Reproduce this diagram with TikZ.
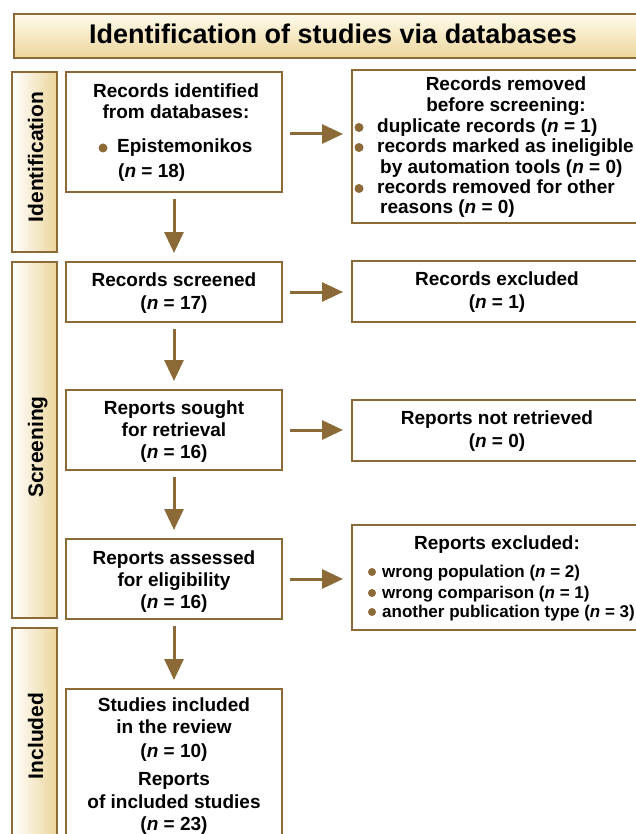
\documentclass[tikz,border=0pt]{standalone}
\usepackage{fontspec}
\setmainfont{Liberation Sans}
\usetikzlibrary{arrows.meta}
\definecolor{pbrown}{HTML}{8C6A38}
\definecolor{ptan}{HTML}{ECD59B}
\definecolor{pcream}{HTML}{FFFBEC}
\begin{document}
\begin{tikzpicture}[x=1pt,y=-1pt,
  pbox/.style={draw=pbrown, line width=2.5pt, fill=white, rectangle, outer sep=0pt, inner sep=0pt, anchor=north west},
  sbar/.style={pbox, left color=white, right color=ptan},
  tbar/.style={pbox, top color=pcream, bottom color=ptan},
  ptxt/.style={font=\fontsize{19}{22}\selectfont\bfseries, inner sep=0pt, anchor=base},
  ltxt/.style={ptxt, anchor=base west},
  stxt/.style={font=\fontsize{17}{20}\selectfont\bfseries, inner sep=0pt, anchor=base west},
  side/.style={font=\fontsize{21}{24}\selectfont\bfseries, inner sep=0pt, anchor=base, rotate=90},
  ttl/.style={font=\fontsize{27}{30}\selectfont\bfseries, inner sep=0pt, anchor=base},
  parr/.style={draw=pbrown, line width=3pt, -{Triangle[length=21pt,width=19pt]}, shorten <=7pt, shorten >=9pt},
  bul/.style={fill=pbrown}
]
\useasboundingbox (0,0) rectangle (636,834);
\clip (0,0) rectangle (636,834);

% title and side bars
\node[tbar, minimum width=640pt, minimum height=44pt] (title) at (14,14) {};
\node[sbar, minimum width=45pt, minimum height=180pt] (idbar) at (12,72) {};
\node[sbar, minimum width=45pt, minimum height=356pt] (scbar) at (12,262) {};
\node[sbar, minimum width=45pt, minimum height=240pt] (inbar) at (12,628) {};

\node[ttl] (ttltext) at (333,44) {Identification of studies via databases};
\node[side] (idtext) at (43,157) {Identification};
\node[side] (sctext) at (43,447) {Screening};
\node[side] (intext) at (43,736) {Included};

% left boxes
\node[pbox, minimum width=216pt, minimum height=120pt] (b1) at (66,72) {};
\node[pbox, minimum width=216pt, minimum height=60pt] (b2) at (66,262) {};
\node[pbox, minimum width=216pt, minimum height=80pt] (b3) at (66,390) {};
\node[pbox, minimum width=216pt, minimum height=80pt] (b4) at (66,539) {};
\node[pbox, minimum width=216pt, minimum height=180pt] (b5) at (66,689) {};

% right boxes
\node[pbox, minimum width=292pt, minimum height=153pt] (r1) at (352,70) {};
\node[pbox, minimum width=292pt, minimum height=61pt] (r2) at (352,261) {};
\node[pbox, minimum width=292pt, minimum height=61pt] (r3) at (352,400) {};
\node[pbox, minimum width=292pt, minimum height=105pt] (r4) at (352,525) {};

% box 1 text
\node[ptxt] (b1a) at (176,98) {Records identified};
\node[ptxt] (b1b) at (176,119) {from databases:};
\fill[bul] (103,148) circle[radius=4.5pt];
\node[ltxt] (b1c) at (117,153) {Epistemonikos};
\node[ltxt] (b1d) at (118,178) {(\textit{n} = 18)};

% box 2-5 text
\node[ptxt] (b2a) at (174,286) {Records screened};
\node[ptxt] (b2b) at (174,309) {(\textit{n} = 17)};
\node[ptxt] (b3a) at (174,414) {Reports sought};
\node[ptxt] (b3b) at (174,436) {for retrieval};
\node[ptxt] (b3c) at (174,458) {(\textit{n} = 16)};
\node[ptxt] (b4a) at (174,564) {Reports assessed};
\node[ptxt] (b4b) at (174,586) {for eligibility};
\node[ptxt] (b4c) at (174,608) {(\textit{n} = 16)};
\node[ptxt] (b5a) at (174,711) {Studies included};
\node[ptxt] (b5b) at (174,733) {in the review};
\node[ptxt] (b5c) at (174,757) {(\textit{n} = 10)};
\node[ptxt] (b5d) at (174,785) {Reports};
\node[ptxt] (b5e) at (174,808) {of included studies};
\node[ptxt] (b5f) at (174,830) {(\textit{n} = 23)};

% right box 1 text
\node[ptxt] (r1a) at (506,91) {Records removed};
\node[ptxt] (r1b) at (506,112) {before screening:};
\fill[bul] (359,127.5) circle[radius=4.5pt];
\node[ltxt] (r1c) at (377,133) {duplicate records (\textit{n} = 1)};
\fill[bul] (359,147.5) circle[radius=4.5pt];
\node[ltxt] (r1d) at (377,153) {records marked as ineligible};
\node[ltxt] (r1e) at (380,174) {by automation tools (\textit{n} = 0)};
\fill[bul] (359,188.5) circle[radius=4.5pt];
\node[ltxt] (r1f) at (377,194) {records removed for other};
\node[ltxt] (r1g) at (380,214) {reasons (\textit{n} = 0)};

% right boxes 2-4 text
\node[ptxt] (r2a) at (497,285) {Records excluded};
\node[ptxt] (r2b) at (497,308) {(\textit{n} = 1)};
\node[ptxt] (r3a) at (497,424) {Reports not retrieved};
\node[ptxt] (r3b) at (497,447) {(\textit{n} = 0)};
\node[ptxt] (r4a) at (497,549) {Reports excluded:};
\fill[bul] (372,572) circle[radius=4pt];
\node[stxt] (r4b) at (382,577.5) {wrong population (\textit{n} = 2)};
\fill[bul] (372,593) circle[radius=4pt];
\node[stxt] (r4c) at (382,598.5) {wrong comparison (\textit{n} = 1)};
\fill[bul] (372,612) circle[radius=4pt];
\node[stxt] (r4d) at (382,617.5) {another publication type (\textit{n} = 3)};

% arrows
\draw[parr] (b1.south) -- (b2.north);
\draw[parr] (b2.south) -- (b3.north);
\draw[parr] (b3.south) -- (b4.north);
\draw[parr] (b4.south) -- (b5.north);
\draw[parr, shorten <=8pt] ([yshift=-2pt]b1.east) -- ([yshift=-2pt]b1.east -| r1.west);
\draw[parr, shorten <=8pt] (b2.east) -- (b2.east -| r2.west);
\draw[parr, shorten <=8pt] (b3.east) -- (b3.east -| r3.west);
\draw[parr, shorten <=8pt] (b4.east) -- (b4.east -| r4.west);
\end{tikzpicture}
\end{document}
